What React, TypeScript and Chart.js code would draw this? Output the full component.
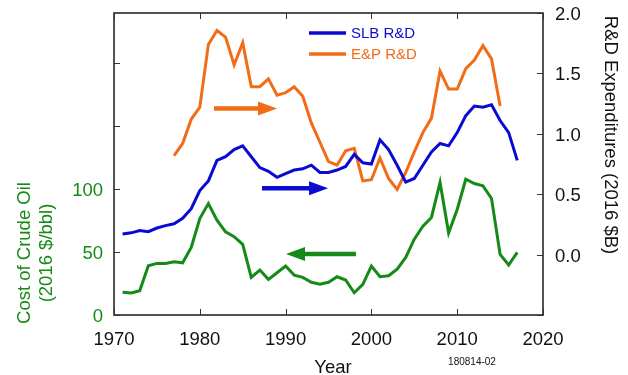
import React, { useEffect, useRef } from 'react';
import { Chart, registerables } from 'chart.js';

Chart.register(...registerables);

const years = [
  1971, 1972, 1973, 1974, 1975, 1976, 1977, 1978, 1979, 1980,
  1981, 1982, 1983, 1984, 1985, 1986, 1987, 1988, 1989, 1990,
  1991, 1992, 1993, 1994, 1995, 1996, 1997, 1998, 1999, 2000,
  2001, 2002, 2003, 2004, 2005, 2006, 2007, 2008, 2009, 2010,
  2011, 2012, 2013, 2014, 2015, 2016, 2017,
];

const crudeOil = [
  18.0, 17.5, 19.3, 39.1, 41.0, 41.0, 42.3, 41.5, 53.7, 76.7,
  88.6, 75.4, 66.1, 62.2, 56.1, 29.9, 35.7, 28.3, 33.6, 38.9,
  31.7, 29.9, 26.0, 24.4, 26.0, 30.4, 27.8, 17.7, 24.4, 38.9,
  30.4, 31.2, 36.5, 45.8, 60.3, 70.6, 77.5, 105.3, 65.3, 83.9,
  107.9, 104.5, 102.6, 92.6, 48.2, 39.7, 49.8,
];

const slbRD = [
  0.17, 0.18, 0.2, 0.19, 0.22, 0.24, 0.255, 0.3, 0.38, 0.53,
  0.61, 0.78, 0.81, 0.87, 0.9, 0.81, 0.72, 0.69, 0.64, 0.67,
  0.7, 0.71, 0.74, 0.68, 0.68, 0.7, 0.73, 0.83, 0.76, 0.75,
  0.95, 0.87, 0.74, 0.6, 0.63, 0.74, 0.85, 0.92, 0.9, 1.01,
  1.15, 1.23, 1.22, 1.24, 1.11, 1.01, 0.78,
];

const epRD = [
  null, null, null, null, null, null, 0.82, 0.92, 1.12, 1.22,
  1.74, 1.855, 1.8, 1.57, 1.755, 1.39, 1.39, 1.455, 1.32, 1.34,
  1.39, 1.31, 1.09, 0.93, 0.77, 0.74, 0.86, 0.88, 0.61, 0.62,
  0.8, 0.63, 0.54, 0.68, 0.85, 1.01, 1.13, 1.52, 1.37, 1.37,
  1.54, 1.61, 1.73, 1.62, 1.23, null, null,
];

const xTicks = [1970, 1980, 1990, 2000, 2010, 2020];
const leftTicks = [0, 50, 100, 150, 200];
const leftLabels = [0, 50, 100];
const rightTicks = [-0.5, 0, 0.5, 1, 1.5, 2];

const GREEN = '#168a16';
const BLUE = '#0a0ad2';
const ORANGE = '#f26c18';

const arrows = [
  { axis: 'y1', from: 1981.65, to: 1989.0, at: 1.21, color: ORANGE },
  { axis: 'y1', from: 1987.25, to: 1994.95, at: 0.55, color: BLUE },
  { axis: 'y', from: 1998.2, to: 1990.05, at: 48.4, color: GREEN },
];

const FONT = "'Liberation Sans', Arial, Helvetica, sans-serif";

const decorPlugin = {
  id: 'decor',
  afterDatasetsDraw(chart: any) {
    const { ctx, chartArea: a, scales } = chart;
    const x = scales.x;
    const yl = scales.y;
    const yr = scales.y1;
    ctx.save();

    // arrows
    for (const ar of arrows) {
      const ys = scales[ar.axis];
      const x0 = x.getPixelForValue(ar.from);
      const x1 = x.getPixelForValue(ar.to);
      const y = ys.getPixelForValue(ar.at);
      const dir = Math.sign(x1 - x0);
      const headLen = 19;
      const headHalf = 7;
      ctx.strokeStyle = ar.color;
      ctx.lineWidth = 4.5;
      ctx.lineCap = 'butt';
      ctx.beginPath();
      ctx.moveTo(x0, y);
      ctx.lineTo(x1 - dir * (headLen - 2), y);
      ctx.stroke();
      ctx.fillStyle = ar.color;
      ctx.beginPath();
      ctx.moveTo(x1, y);
      ctx.lineTo(x1 - dir * headLen, y - headHalf);
      ctx.lineTo(x1 - dir * headLen, y + headHalf);
      ctx.closePath();
      ctx.fill();
    }

    // frame
    ctx.strokeStyle = '#1a1a1a';
    ctx.lineWidth = 1.5;
    ctx.strokeRect(a.left, a.top, a.right - a.left, a.bottom - a.top);

    // inward ticks
    ctx.strokeStyle = '#333';
    ctx.lineWidth = 1;
    const tl = 6;
    ctx.beginPath();
    for (const t of xTicks) {
      const px = Math.round(x.getPixelForValue(t)) + 0.5;
      ctx.moveTo(px, a.bottom);
      ctx.lineTo(px, a.bottom - tl);
      ctx.moveTo(px, a.top);
      ctx.lineTo(px, a.top + tl);
    }
    for (const t of leftTicks) {
      const py = Math.round(yl.getPixelForValue(t)) + 0.5;
      ctx.moveTo(a.left, py);
      ctx.lineTo(a.left + tl, py);
    }
    for (const t of rightTicks) {
      const py = Math.round(yr.getPixelForValue(t)) + 0.5;
      ctx.moveTo(a.right, py);
      ctx.lineTo(a.right - tl, py);
    }
    ctx.stroke();

    // legend
    const legendItems = chart.data.datasets.filter((d: any) => d.yAxisID === 'y1');
    ctx.font = `15px ${FONT}`;
    ctx.textAlign = 'left';
    ctx.textBaseline = 'middle';
    legendItems.forEach((d: any, i: number) => {
      const ly = 33 + i * 21;
      ctx.strokeStyle = d.borderColor;
      ctx.lineWidth = 3.5;
      ctx.beginPath();
      ctx.moveTo(309, ly);
      ctx.lineTo(346, ly);
      ctx.stroke();
      ctx.fillStyle = d.borderColor;
      ctx.fillText(d.label, 351, ly + 0.5);
    });

    // axis titles
    ctx.font = `18.5px ${FONT}`;
    ctx.textAlign = 'center';
    ctx.textBaseline = 'middle';
    ctx.fillStyle = GREEN;
    ctx.save();
    ctx.translate(25, 253);
    ctx.rotate(-Math.PI / 2);
    ctx.fillText('Cost of Crude Oil', 0, 0);
    ctx.fillText('(2016 $/bbl)', 0, 22);
    ctx.restore();

    ctx.fillStyle = '#111';
    ctx.save();
    ctx.translate(610, 135);
    ctx.rotate(Math.PI / 2);
    ctx.fillText('R&D Expenditures (2016 $B)', 0, 0);
    ctx.restore();

    ctx.fillText('Year', 333, 368);

    ctx.font = `10px ${FONT}`;
    ctx.fillText('180814-02', 472, 362);

    ctx.restore();
  },
};

export default function App() {
  const ref = useRef<HTMLCanvasElement | null>(null);

  useEffect(() => {
    if (!ref.current) return;
    Chart.defaults.font.family = FONT;
    const toPts = (vals: (number | null)[]) => years.map((yr, i) => ({ x: yr, y: vals[i] }));
    const chart = new Chart(ref.current, {
      type: 'line',
      data: {
        datasets: [
          {
            label: 'Cost of Crude Oil',
            data: toPts(crudeOil),
            yAxisID: 'y',
            borderColor: GREEN,
            backgroundColor: GREEN,
            borderWidth: 3,
            pointRadius: 0,
            tension: 0,
          },
          {
            label: 'SLB R&D',
            data: toPts(slbRD),
            yAxisID: 'y1',
            borderColor: BLUE,
            backgroundColor: BLUE,
            borderWidth: 3,
            pointRadius: 0,
            tension: 0,
          },
          {
            label: 'E&P R&D',
            data: toPts(epRD),
            yAxisID: 'y1',
            borderColor: ORANGE,
            backgroundColor: ORANGE,
            borderWidth: 3,
            pointRadius: 0,
            tension: 0,
          },
        ],
      },
      options: {
        animation: false,
        responsive: false,
        devicePixelRatio: 1,
        layout: { padding: { top: 13, left: 0, right: 0, bottom: 0 } },
        plugins: {
          legend: { display: false },
          tooltip: { enabled: false },
        },
        scales: {
          x: {
            type: 'linear',
            min: 1970,
            max: 2020,
            grid: { display: false, drawTicks: false },
            border: { display: false },
            ticks: {
              stepSize: 10,
              padding: 14,
              color: '#111',
              font: { size: 18.5 },
              callback: (v: any) => String(v),
            },
            afterFit: (s: any) => {
              s.height = 60;
              s.paddingLeft = 0;
              s.paddingRight = 0;
            },
          },
          y: {
            type: 'linear',
            position: 'left',
            min: 0,
            max: 240,
            grid: { display: false, drawTicks: false },
            border: { display: false },
            ticks: {
              stepSize: 50,
              includeBounds: false,
              padding: 11,
              labelOffset: 2,
              color: GREEN,
              font: { size: 18.5 },
              callback: (v: any) => (leftLabels.includes(v) ? String(v) : ''),
            },
            afterFit: (s: any) => {
              s.width = 114;
              s.paddingTop = 0;
              s.paddingBottom = 0;
            },
          },
          y1: {
            type: 'linear',
            position: 'right',
            min: -0.5,
            max: 2.0,
            grid: { display: false, drawTicks: false },
            border: { display: false },
            ticks: {
              stepSize: 0.5,
              padding: 12,
              labelOffset: 2,
              color: '#111',
              font: { size: 18.5 },
              callback: (v: any) => (v < 0 ? '' : Number(v).toFixed(1)),
            },
            afterFit: (s: any) => {
              s.width = 85;
              s.paddingTop = 0;
              s.paddingBottom = 0;
            },
          },
        },
      },
      plugins: [decorPlugin],
    });
    return () => chart.destroy();
  }, []);

  return (
    <div style={{ position: 'absolute', left: 0, top: 0, width: 628, height: 375, background: '#fff' }}>
      <canvas ref={ref} width={628} height={375} style={{ display: 'block' }} />
    </div>
  );
}
